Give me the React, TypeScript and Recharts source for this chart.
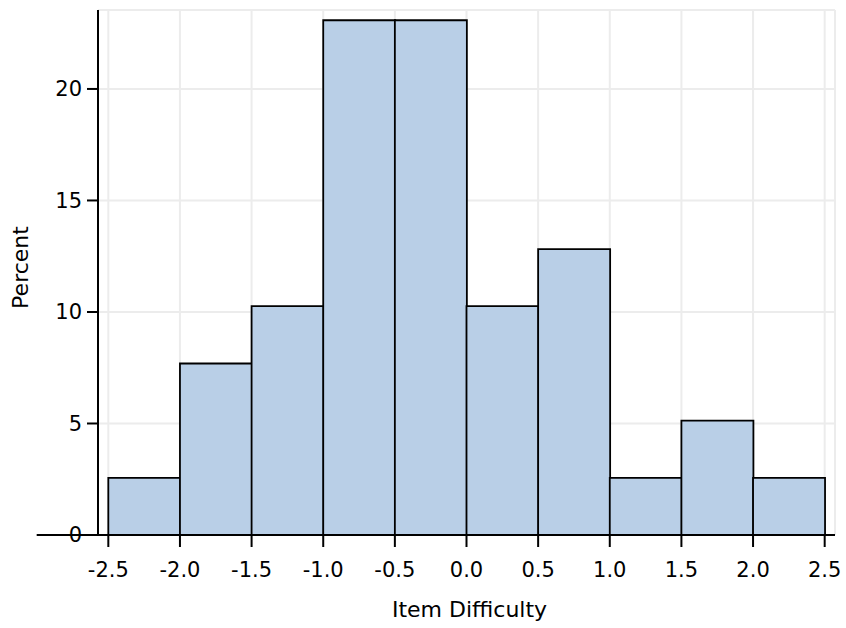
import React from 'react';
import { ComposedChart, Bar, XAxis, YAxis, CartesianGrid, ReferenceLine, Label } from 'recharts';

// Histogram of item difficulty, bin width 0.5
const binCenters = [-2.25, -1.75, -1.25, -0.75, -0.25, 0.25, 0.75, 1.25, 1.75, 2.25];
const percents = [2.56, 7.69, 10.26, 23.08, 23.08, 10.26, 12.82, 2.56, 5.13, 2.56];
const xTicks = [-2.5, -2.0, -1.5, -1.0, -0.5, 0.0, 0.5, 1.0, 1.5, 2.0, 2.5];
const yTicks = [0, 5, 10, 15, 20];
const xDomain: [number, number] = [-2.572, 2.572];
const yDomain: [number, number] = [0, 23.54];
const xTitle = 'Item Difficulty';
const yTitle = 'Percent';

const data = binCenters.map((x, i) => ({ x, pct: percents[i] }));

const FONT = 'DejaVu Sans';

export default function App() {
  return (
    <div style={{ position: 'absolute', left: 0, top: 0, background: '#fff' }}>
      <ComposedChart
        width={846}
        height={628}
        data={data}
        margin={{ top: 10, right: 11, bottom: 0, left: 0 }}
        barCategoryGap={0}
        barGap={0}
        style={{ fontFamily: FONT }}
      >
        <CartesianGrid stroke="#ececec" strokeWidth={2} />
        <XAxis
          dataKey="x"
          type="number"
          domain={xDomain}
          ticks={xTicks}
          allowDataOverflow
          interval={0}
          height={93}
          tickFormatter={(v: number) => v.toFixed(1)}
          tick={{ fontSize: 21, fill: '#000', fontFamily: FONT }}
          tickSize={12}
          tickMargin={15}
          tickLine={{ stroke: '#000', strokeWidth: 2 }}
          axisLine={{ stroke: '#000', strokeWidth: 2 }}
        >
          <Label
            content={(props: any) => {
              const vb = props.viewBox || { x: 98, y: 535, width: 737, height: 93 };
              return (
                <text
                  x={vb.x + vb.width / 2 + 3}
                  y={617}
                  textAnchor="middle"
                  fontSize={22}
                  fontFamily={FONT}
                  fill="#000"
                >
                  {xTitle}
                </text>
              );
            }}
          />
        </XAxis>
        <XAxis
          xAxisId="top"
          orientation="top"
          type="number"
          domain={xDomain}
          height={0}
          tick={false}
          tickLine={false}
          axisLine={{ stroke: '#000', strokeWidth: 2 }}
        />
        <YAxis
          type="number"
          domain={yDomain}
          ticks={yTicks}
          allowDataOverflow
          interval={0}
          width={98}
          tick={{ fontSize: 21, fill: '#000', fontFamily: FONT }}
          tickSize={11}
          tickMargin={5}
          tickLine={{ stroke: '#000', strokeWidth: 2 }}
          axisLine={{ stroke: '#000', strokeWidth: 2 }}
        >
          <Label
            content={(props: any) => {
              const vb = props.viewBox || { x: 0, y: 10, width: 98, height: 525 };
              const cy = vb.y + vb.height / 2 - 5;
              const cx = vb.x + 28;
              return (
                <text
                  x={cx}
                  y={cy}
                  transform={`rotate(-90, ${cx}, ${cy})`}
                  textAnchor="middle"
                  fontSize={22}
                  fontFamily={FONT}
                  fill="#000"
                >
                  {yTitle}
                </text>
              );
            }}
          />
        </YAxis>
        <YAxis
          yAxisId="right"
          orientation="right"
          type="number"
          domain={yDomain}
          width={0}
          tick={false}
          tickLine={false}
          axisLine={{ stroke: '#000', strokeWidth: 2 }}
        />
        <Bar
          dataKey="pct"
          fill="#b9cfe7"
          stroke="#000"
          strokeWidth={1.8}
          isAnimationActive={false}
        />
        <ReferenceLine
          segment={[{ x: -3.0, y: 0 }, { x: -2.572, y: 0 }]}
          stroke="#000"
          strokeWidth={2}
          ifOverflow="visible"
        />
      </ComposedChart>
    </div>
  );
}
